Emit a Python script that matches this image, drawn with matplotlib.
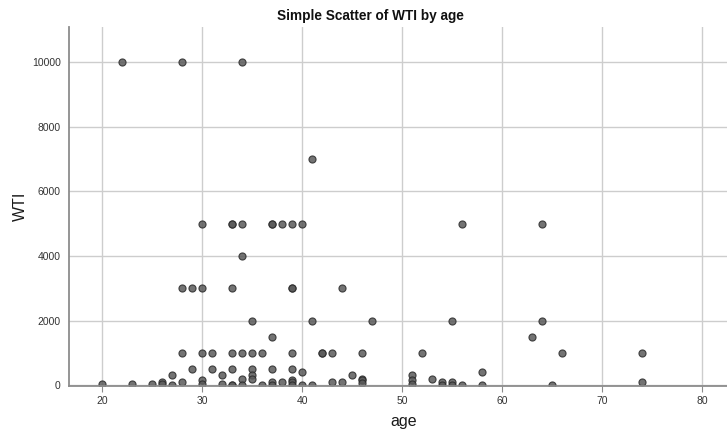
import matplotlib
matplotlib.use("Agg")
import matplotlib.pyplot as plt

plt.rcParams['font.family'] = ['Liberation Sans', 'DejaVu Sans']

# Respondent age and WTI value, one entry per case
age = [20, 22, 23, 25, 26, 26, 27, 27,
       28, 28, 28, 28, 29, 29,
       30, 30, 30, 30, 30, 31, 31, 32, 32,
       33, 33, 33, 33, 33, 33, 33,
       34, 34, 34, 34, 34, 34,
       35, 35, 35, 35, 35, 36, 36,
       37, 37, 37, 37, 37, 37, 38, 38,
       39, 39, 39, 39, 39, 39, 39, 39,
       40, 40, 40, 41, 41, 41, 42, 42, 43, 43, 44, 44, 45,
       46, 46, 46, 46, 47,
       51, 51, 51, 52, 53, 54, 54, 55, 55, 55, 56, 56, 58, 58,
       63, 64, 64, 65, 66, 74, 74]
wti = [30, 10000, 30, 30, 100, 30, 300, 0,
       10000, 3000, 1000, 100, 3000, 500,
       5000, 3000, 1000, 150, 30, 1000, 500, 300, 30,
       5000, 5000, 3000, 1000, 500, 0, 0,
       10000, 5000, 4000, 1000, 200, 0,
       2000, 1000, 500, 300, 200, 1000, 0,
       5000, 5000, 1500, 500, 100, 0, 5000, 100,
       5000, 3000, 3000, 1000, 500, 150, 80, 0,
       5000, 400, 0, 7000, 2000, 0, 1000, 1000, 1000, 100, 3000, 100, 300,
       1000, 200, 150, 50, 2000,
       300, 150, 30, 1000, 200, 100, 0, 2000, 100, 0, 5000, 0, 400, 0,
       1500, 5000, 2000, 0, 1000, 1000, 100]

x_ticks = [20, 30, 40, 50, 60, 70, 80]
y_ticks = [0, 2000, 4000, 6000, 8000, 10000]

fig = plt.figure(figsize=(7.27, 4.32), dpi=100)
ax = fig.add_axes([0.0949, 0.1065, 0.905, 0.831])

ax.scatter(age, wti, s=26, facecolor='#5a5a5a', edgecolor='#2a2a2a',
           linewidths=0.8, alpha=0.85, zorder=3)

ax.set_xlim(16.67, 82.5)
ax.set_ylim(-30, 11100)
ax.set_xticks(x_ticks)
ax.set_yticks(y_ticks)
ax.grid(True, color='#cdcdcd', linewidth=1.0, zorder=0)
ax.set_axisbelow(True)

for side in ('top', 'right'):
    ax.spines[side].set_visible(False)
for side in ('left', 'bottom'):
    ax.spines[side].set_color('#8c8c8c')
    ax.spines[side].set_linewidth(1.3)
    ax.spines[side].set_zorder(4)

ax.tick_params(axis='x', length=4, color='#8c8c8c', labelsize=7.5,
               labelcolor='#333333', pad=3)
ax.tick_params(axis='y', length=0, labelsize=7.5, labelcolor='#333333', pad=6)

ax.set_xlabel('age', fontsize=11.5, color='#1a1a1a', va='center', ha='center')
ax.set_ylabel('WTI', fontsize=11.5, color='#1a1a1a', va='center', ha='center')
ax.xaxis.set_label_coords(0.508, -0.099)
ax.yaxis.set_label_coords(-0.0745, 0.5)

fig.text(370 / 727, 1 - 16 / 432, 'Simple Scatter of WTI by age',
         ha='center', va='center', fontsize=9.8, fontweight='bold',
         color='#111111')

fig.savefig('out.png', dpi=100)
